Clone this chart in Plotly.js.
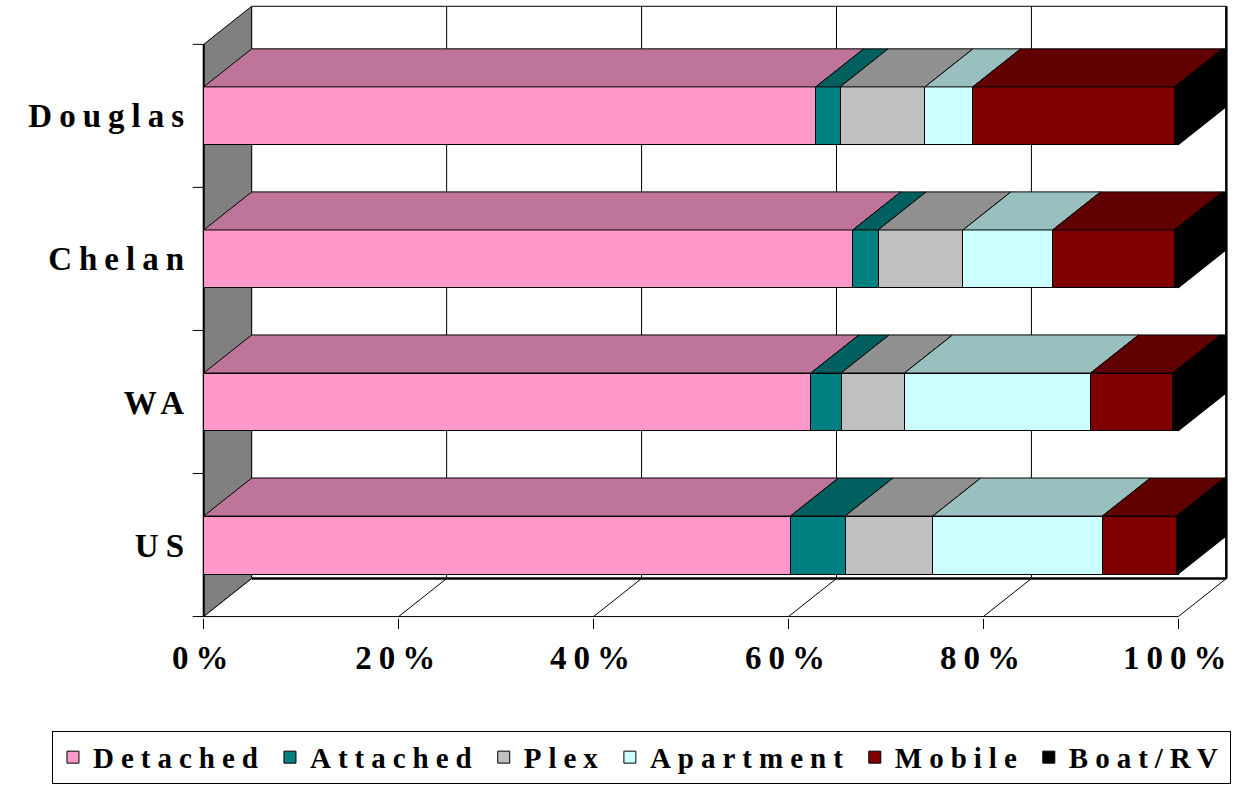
<!DOCTYPE html>
<html><head><meta charset="utf-8">
<script src="https://cdn.plot.ly/plotly-3.0.1.min.js"></script>
<style>
html,body{margin:0;padding:0;background:#fff;}
text{letter-spacing:7px;}
text.legendtext{letter-spacing:7px;}
</style></head><body>
<div id="chart" style="width:1244px;height:789px;"></div>
<script>
// ---- data ----
const categories = ['Douglas', 'Chelan', 'WA', 'US'];
const seriesNames = ['Detached', 'Attached', 'Plex', 'Apartment', 'Mobile', 'Boat/RV'];
const detached  = [62.8, 66.6, 62.3, 60.2];
const attached  = [2.5, 2.6, 3.1, 5.6];
const plex      = [8.7, 8.7, 6.5, 9.0];
const apartment = [4.9, 9.2, 19.1, 17.4];
const mobile    = [20.7, 12.5, 8.4, 7.6];
const boatRV    = [0.4, 0.4, 0.6, 0.2];
const xTickVals = [0, 20, 40, 60, 80, 100];
const xTickText = ['0%', '20%', '40%', '60%', '80%', '100%'];

// ---- styles ----
const frontColors = ['#FF99CC', '#008080', '#C0C0C0', '#CCFFFF', '#800000', '#000000'];
const topColors   = ['#BF7599', '#006060', '#909090', '#99BFBF', '#600000', '#000000'];
const sideColors  = ['#BF7599', '#006060', '#909090', '#99BFBF', '#600000', '#000000'];
const FONT = 'Liberation Serif, Times New Roman, serif';
const DX = 4.925, DY = 0.266, BARW = 0.405;

const seriesValues = [detached, attached, plex, apartment, mobile, boatRV];
const nCat = categories.length;
const yPos = categories.map((c, i) => nCat - 0.5 - i);

const traces = [];
// front faces: stacked bars
seriesValues.forEach((vals, i) => {
  traces.push({
    type: 'bar', orientation: 'h', name: seriesNames[i],
    x: vals, y: yPos, width: BARW,
    marker: { color: frontColors[i], line: { color: '#000', width: 1 } },
    hoverinfo: 'skip', legendgroup: seriesNames[i]
  });
});
// top faces
const cum = categories.map(() => 0);
seriesValues.forEach((vals, i) => {
  const xs = [], ys = [];
  vals.forEach((v, j) => {
    const x0 = cum[j], x1 = cum[j] + v, yt = yPos[j] + BARW / 2;
    xs.push(x0, x1, x1 + DX, x0 + DX, x0, null);
    ys.push(yt, yt, yt + DY, yt + DY, yt, null);
    cum[j] = x1;
  });
  traces.push({
    type: 'scatter', mode: 'lines', x: xs, y: ys, fill: 'toself',
    fillcolor: topColors[i], line: { color: '#000', width: 1 },
    showlegend: false, hoverinfo: 'skip', legendgroup: seriesNames[i]
  });
});
// right end faces (coloured by last series)
{
  const last = seriesValues.length - 1;
  const xs = [], ys = [];
  cum.forEach((xe, j) => {
    const yb = yPos[j] - BARW / 2, yt = yPos[j] + BARW / 2;
    xs.push(xe, xe, xe + DX, xe + DX, xe, null);
    ys.push(yb, yt, yt + DY, yb + DY, yb, null);
  });
  traces.push({
    type: 'scatter', mode: 'lines', x: xs, y: ys, fill: 'toself',
    fillcolor: sideColors[last], line: { color: '#000', width: 1 },
    showlegend: false, hoverinfo: 'skip'
  });
}

// ---- frame shapes (walls, floor, grid) ----
const XMAX = xTickVals[xTickVals.length - 1];
const shapes = [];
const L = (x0, y0, x1, y1, w) => shapes.push({ type: 'line', xref: 'x', yref: 'y', x0, y0, x1, y1, layer: 'below', line: { color: '#000', width: w || 1 } });
shapes.push({ type: 'path', xref: 'x', yref: 'y', layer: 'below',
  path: `M0,0 L0,${nCat} L${DX},${nCat + DY} L${DX},${DY} Z`,
  fillcolor: '#808080', line: { color: '#000', width: 1 } });
shapes.push({ type: 'rect', xref: 'x', yref: 'y', layer: 'below',
  x0: DX, y0: DY, x1: XMAX + DX, y1: nCat + DY, fillcolor: '#fff', line: { color: '#000', width: 1 } });
shapes.push({ type: 'path', xref: 'x', yref: 'y', layer: 'below',
  path: `M0,0 L${XMAX},0 L${XMAX + DX},${DY} L${DX},${DY} Z`,
  fillcolor: '#fff', line: { color: '#000', width: 1 } });
xTickVals.slice(1, -1).forEach(v => {
  L(v, 0, v + DX, DY);
  L(v + DX, DY, v + DX, nCat + DY);
});
L(XMAX + DX, DY, XMAX + DX, nCat + DY, 2.5);
L(DX, DY, XMAX + DX, DY, 2.5);
L(0, 0, 0, nCat, 2);
for (let k = 0; k <= nCat; k++) L(-1.13, k, 0, k, 1);

const layout = {
  width: 1244, height: 789,
  margin: { l: 192, r: 14, t: 5, b: 171, pad: 0 },
  paper_bgcolor: '#fff', plot_bgcolor: 'rgba(0,0,0,0)',
  barmode: 'stack', bargap: 0,
  showlegend: true,
  xaxis: {
    range: [-1.2, 105.3], showgrid: false, zeroline: false, showline: false,
    tickvals: xTickVals, ticktext: xTickText, ticks: 'outside', ticklen: 10,
    tickcolor: '#000', tickwidth: 1, ticklabelstandoff: 0,
    tickfont: { family: FONT, size: 33, color: '#000', weight: 'bold' }, fixedrange: true
  },
  yaxis: {
    range: [-0.01, 4.275], showgrid: false, zeroline: false, showline: false,
    tickvals: yPos, ticktext: categories, ticks: '',
    tickfont: { family: FONT, size: 33, color: '#000', weight: 'bold' }, fixedrange: true
  },
  legend: {
    orientation: 'h', x: -0.1349, xanchor: 'left', y: -0.184, yanchor: 'top',
    bordercolor: '#000', borderwidth: 1, bgcolor: '#fff', traceorder: 'normal',
    font: { family: FONT, size: 29, color: '#000', weight: 'bold' }
  },
  shapes: shapes
};

Plotly.newPlot('chart', traces, layout, { displayModeBar: false, staticPlot: true });
</script>
</body></html>
